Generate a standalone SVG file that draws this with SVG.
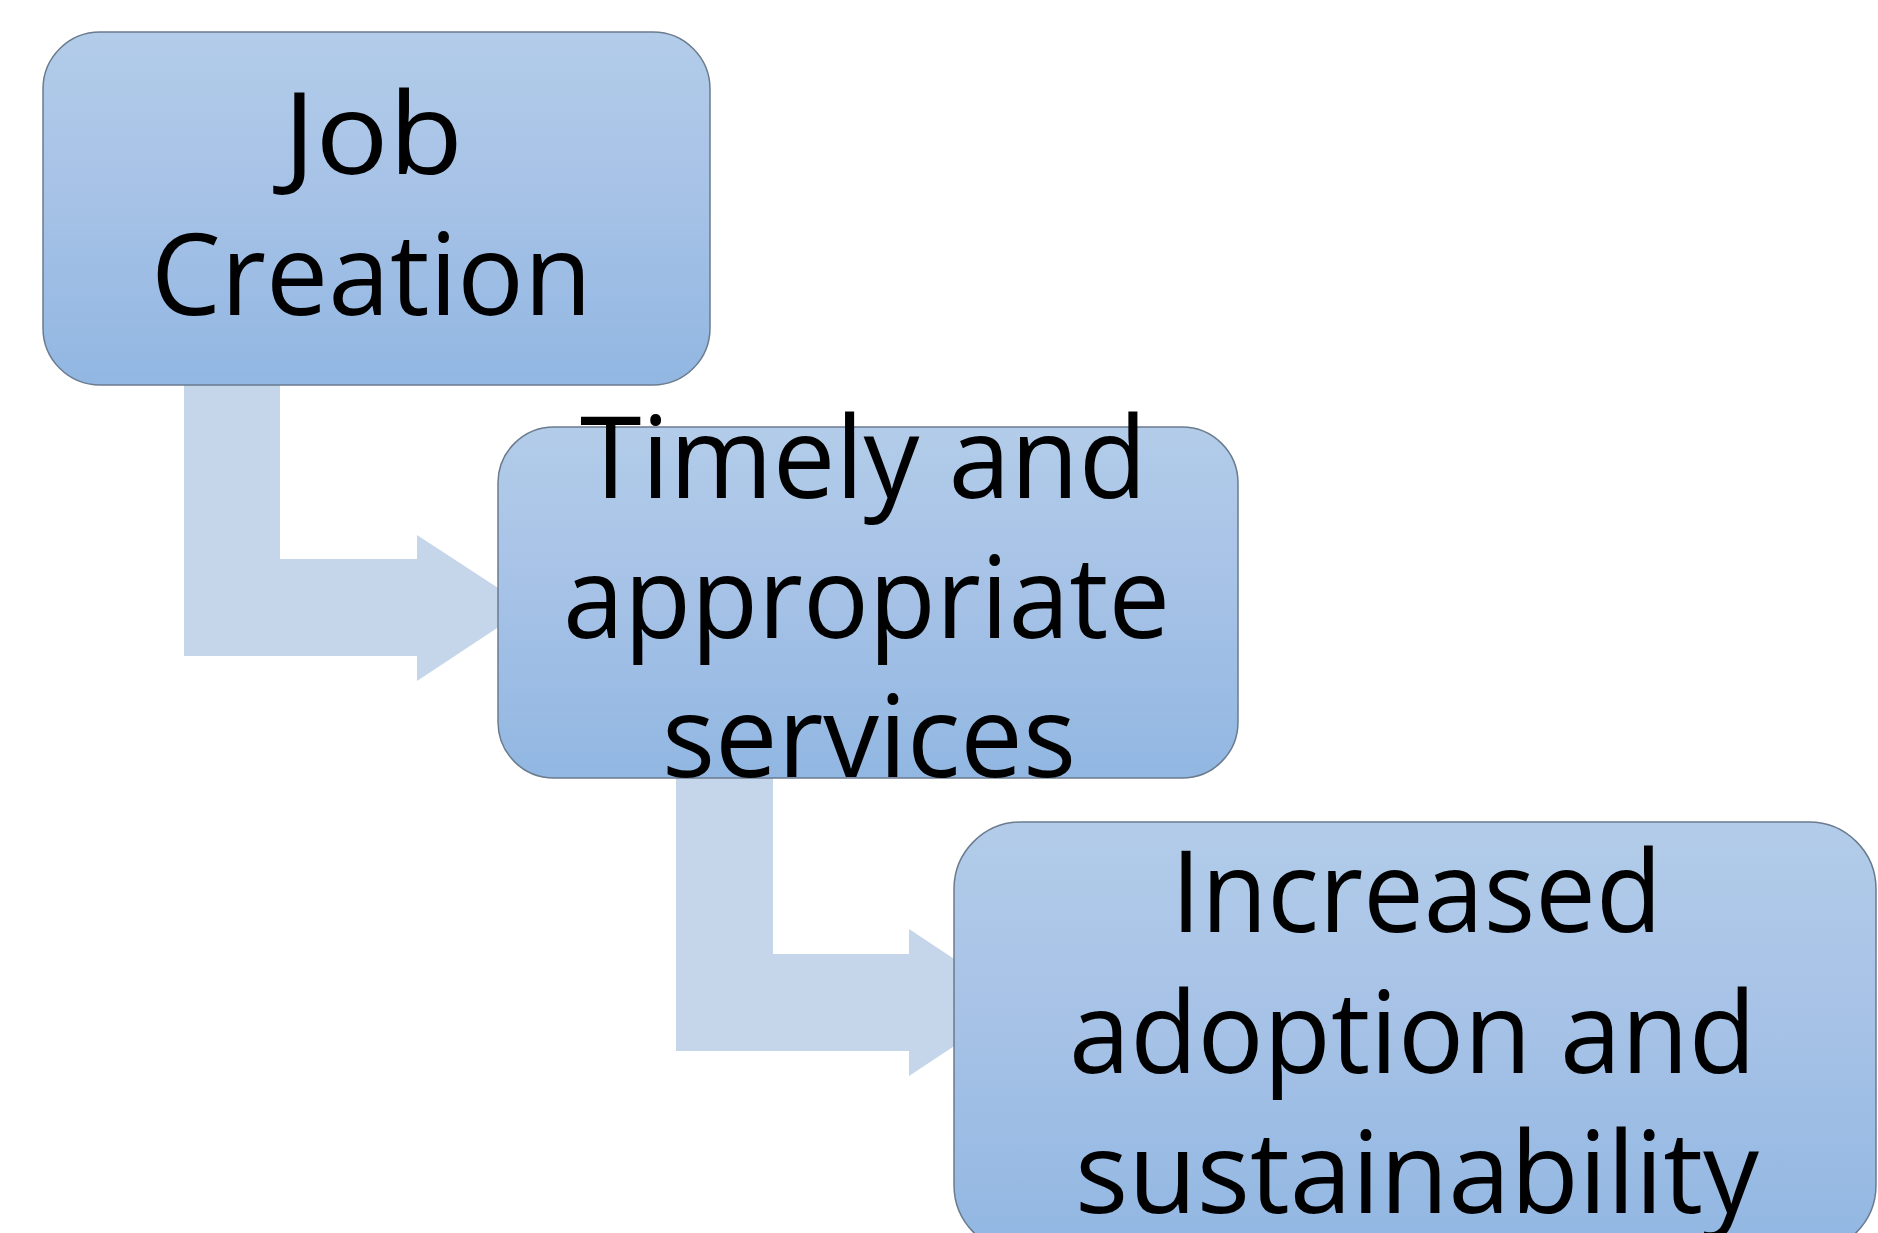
<svg xmlns="http://www.w3.org/2000/svg" width="1878" height="1233" viewBox="0 0 1878 1233">
  <defs>
    <linearGradient id="boxFill" x1="0" y1="0" x2="0" y2="1">
      <stop offset="0" stop-color="#B2CCE9"/>
      <stop offset="0.5" stop-color="#A5C1E6"/>
      <stop offset="1" stop-color="#91B7E2"/>
    </linearGradient>
    <style>
      .box { fill: url(#boxFill); stroke: #6B7B8E; stroke-width: 1.5; }
      .arrow { fill: #C5D5EA; stroke: none; }
      .label { font-family: "Open Sans", "Noto Sans", "Liberation Sans", sans-serif; font-size: 113px; fill: #000000; text-anchor: middle; }
    </style>
  </defs>
  <rect width="1878" height="1233" fill="#FFFFFF"/>
  <g id="connectors">
    <path class="arrow" d="M184,384 L280,384 L280,559 L417,559 L417,535 L528,607.5 L417,681 L417,656 L184,656 Z"/>
    <path class="arrow" d="M676,778 L773,778 L773,954 L909,954 L909,929 L1020,1002.5 L909,1076 L909,1051 L676,1051 Z"/>
  </g>
  <g id="node-job-creation">
    <rect class="box" x="43" y="32" width="667" height="353" rx="57" ry="57"/>
    <text class="label" x="373" y="174" textLength="180" lengthAdjust="spacingAndGlyphs">Job</text>
    <text class="label" x="371.5" y="315" textLength="441" lengthAdjust="spacingAndGlyphs">Creation</text>
  </g>
  <g id="node-timely-services">
    <rect class="box" x="498" y="427" width="740" height="351" rx="56" ry="56"/>
    <text class="label" x="863.5" y="498" textLength="567" lengthAdjust="spacingAndGlyphs">Timely and</text>
    <text class="label" x="866.5" y="638" textLength="607" lengthAdjust="spacingAndGlyphs">appropriate</text>
    <text class="label" x="869" y="777" textLength="414" lengthAdjust="spacingAndGlyphs">services</text>
  </g>
  <g id="node-adoption-sustainability">
    <rect class="box" x="954" y="822" width="922" height="430" rx="67" ry="67"/>
    <text class="label" x="1416.5" y="932" textLength="491" lengthAdjust="spacingAndGlyphs">Increased</text>
    <text class="label" x="1412.5" y="1073" textLength="687" lengthAdjust="spacingAndGlyphs">adoption and</text>
    <text class="label" x="1417" y="1213" textLength="684" lengthAdjust="spacingAndGlyphs">sustainability</text>
  </g>
</svg>
